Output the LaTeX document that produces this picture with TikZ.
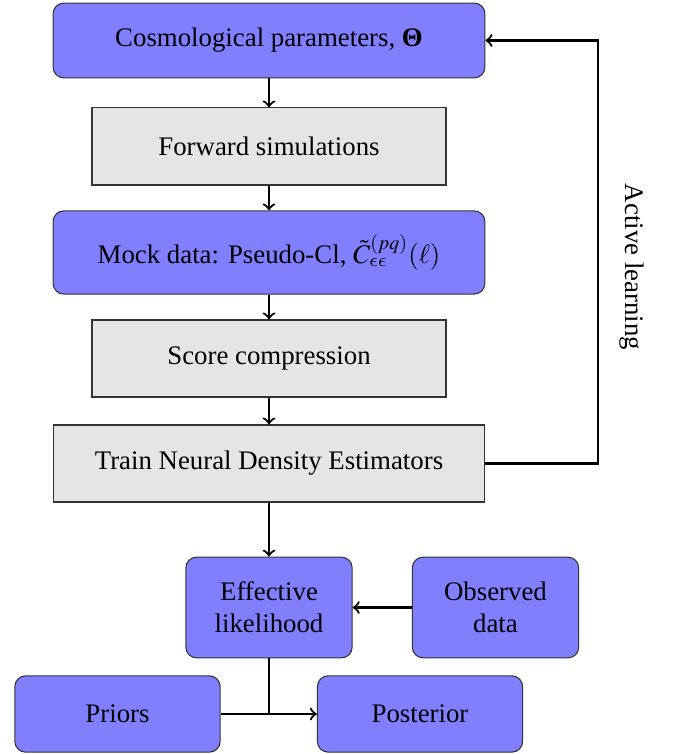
\documentclass[tikz,border=0pt]{standalone}
\usepackage{mathptmx}
\usepackage{fontspec}
\setmainfont{Liberation Serif}
\usetikzlibrary{positioning}

% lunate epsilon from cmmi
\DeclareSymbolFont{cmletters}{OML}{cmm}{m}{it}
\DeclareMathSymbol{\lunateeps}{\mathord}{cmletters}{"0F}

\tikzset{
	bluebox/.style={draw=black!80, fill=blue!50, rounded corners=4pt, align=center, inner sep=2pt},
	graybox/.style={draw=black!80, fill=gray!20, align=center, inner sep=2pt},
	flow/.style={thick, ->}
}

\begin{document}
\begin{tikzpicture}[x=0.01311cm, y=-0.01311cm]
			\useasboundingbox (0,0) rectangle (675,754);

			% pipeline
			\node[bluebox, minimum width=5.66cm, minimum height=0.98cm] (cosmo) at (269,40.5) {Cosmological parameters, \textbf{Θ}};
			\node[graybox, minimum width=4.64cm, minimum height=1.01cm] (fwd) at (269,146.5) {Forward simulations};
			\node[bluebox, minimum width=5.66cm, minimum height=1.09cm] (mock) at (269,252.5) {Mock data: Pseudo-Cl, $\tilde{C}^{(pq)}_{\lunateeps\lunateeps}(\ell)$};
			\node[graybox, minimum width=4.64cm, minimum height=1.01cm] (score) at (269,358.5) {Score compression};
			\node[graybox, minimum width=5.66cm, minimum height=1.01cm] (nde) at (269,463.5) {Train Neural Density Estimators};

			% inference
			\node[bluebox, minimum width=2.18cm, minimum height=1.32cm] (efflike) at (269,607.5) {Effective\\likelihood};
			\node[bluebox, minimum width=2.18cm, minimum height=1.32cm] (obs) at (495.5,607.5) {Observed\\data};
			\node[bluebox, minimum width=2.69cm, minimum height=1.0cm] (priors) at (117.5,714) {Priors};
			\node[bluebox, minimum width=2.69cm, minimum height=1.0cm] (post) at (420,714) {Posterior};

			% arrows
			\draw[flow] (cosmo) -- (fwd);
			\draw[flow] (fwd) -- (mock);
			\draw[flow] (mock) -- (score);
			\draw[flow] (score) -- (nde);
			\draw[flow] (nde) -- (efflike);
			\draw[flow] (obs) -- (efflike);
			\draw[flow] (priors) -- (post);
			\draw[thin] (efflike.south) -- (efflike.south |- post.west);

			% feedback loop
			\draw[flow] (nde.east) -- (598,463.5) -- (598,40.5) -- (cosmo.east);
			\node[rotate=-90] (active) at (632,267) {Active learning};
		\end{tikzpicture}
\end{document}
